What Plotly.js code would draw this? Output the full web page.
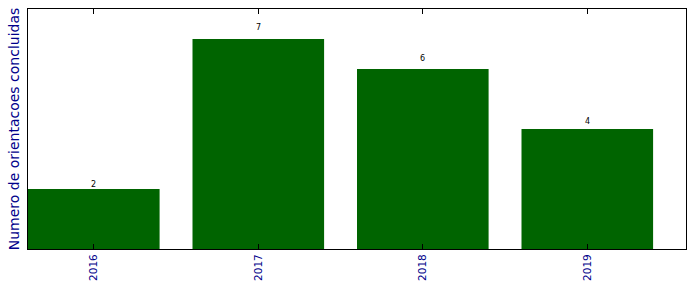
<!DOCTYPE html>
<html><head><meta charset="utf-8">
<script src="https://cdn.plot.ly/plotly-3.0.1.min.js"></script>
<style>html,body{margin:0;padding:0;background:#fff}#c{width:696px;height:292px}</style>
</head><body><div id="c"></div>
<script>
const years = ["2016", "2017", "2018", "2019"];
const counts = [2, 7, 6, 4];

const annotations = years.map((y, i) => ({
  x: i, y: counts[i] * 1.05, text: String(counts[i]), showarrow: false,
  yanchor: 'bottom', xanchor: 'center', yshift: -5,
  font: {family: 'DejaVu Sans', size: 8, color: '#000'}
}));

Plotly.newPlot('c', [{
  type: 'bar', x: years.map((_, i) => i), y: counts, width: 0.8,
  marker: {color: '#006400', line: {width: 0}}, hoverinfo: 'none'
}], {
  width: 696, height: 292,
  margin: {l: 28, r: 10, t: 9, b: 43},
  paper_bgcolor: '#fff', plot_bgcolor: '#fff',
  showlegend: false,
  font: {family: 'DejaVu Sans'},
  xaxis: {
    range: [-0.4, 3.6], tickmode: 'array', tickvals: years.map((_, i) => i), ticktext: years,
    tickangle: -90, ticks: 'inside', ticklen: 5, tickcolor: '#000', tickwidth: 1,
    showline: true, linecolor: '#000', linewidth: 1, mirror: 'ticks',
    showgrid: false, zeroline: false,
    tickfont: {family: 'DejaVu Sans', size: 10.5, color: '#00008B'}
  },
  yaxis: {
    range: [0, 8], showticklabels: false, ticks: '',
    showline: true, linecolor: '#000', linewidth: 1, mirror: true,
    showgrid: false, zeroline: false,
    title: {text: 'Numero de orientacoes concluidas', standoff: 4,
      font: {family: 'DejaVu Sans', size: 14, color: '#00008B'}}
  },
  annotations: annotations
}, {staticPlot: true, displayModeBar: false});
</script></body></html>
